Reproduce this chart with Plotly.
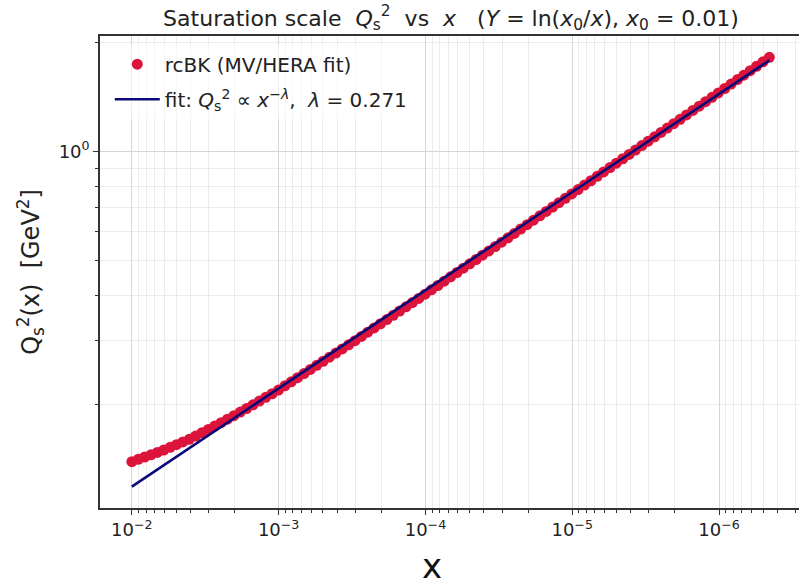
import numpy as np
import plotly.graph_objects as go

# ---- data ----
x0 = 0.01
Y_grid = np.linspace(0.0, 10.0, 101)          # rapidity Y = ln(x0/x)
x_vals = x0 * np.exp(-Y_grid)

qs2_rcbk = [
    0.1393, 0.1414, 0.1434, 0.1455, 0.1477, 0.1500, 0.1526, 0.1552, 0.1579, 0.1606,
    0.1639, 0.1674, 0.1710, 0.1746, 0.1784, 0.1825, 0.1866, 0.1909, 0.1953, 0.1999,
    0.2047, 0.2096, 0.2145, 0.2196, 0.2255, 0.2314, 0.2375, 0.2439, 0.2503, 0.2569,
    0.2637, 0.2707, 0.2778, 0.2852, 0.2927, 0.3006, 0.3088, 0.3172, 0.3259, 0.3347,
    0.3438, 0.3532, 0.3628, 0.3727, 0.3829, 0.3932, 0.4040, 0.4153, 0.4268, 0.4387,
    0.4510, 0.4636, 0.4764, 0.4897, 0.5035, 0.5174, 0.5318, 0.5467, 0.5622, 0.5779,
    0.5942, 0.6112, 0.6283, 0.6463, 0.6645, 0.6833, 0.7026, 0.7226, 0.7430, 0.7639,
    0.7855, 0.8080, 0.8306, 0.8543, 0.8785, 0.9033, 0.9288, 0.9553, 0.9822, 1.0097,
    1.0385, 1.0678, 1.0980, 1.1290, 1.1612, 1.1940, 1.2277, 1.2624, 1.2984, 1.3347,
    1.3728, 1.4116, 1.4515, 1.4931, 1.5360, 1.5801, 1.6252, 1.6719, 1.7199, 1.7689,
    1.8197,
]

fit_x = [1.0e-2, 4.54e-7]
fit_y = [0.1189, 1.786]

x_tick_vals = [1e-2, 1e-3, 1e-4, 1e-5, 1e-6]
x_tick_text = ["10<sup>−2</sup>", "10<sup>−3</sup>", "10<sup>−4</sup>",
               "10<sup>−5</sup>", "10<sup>−6</sup>"]
y_tick_vals = [1.0]
y_tick_text = ["10<sup>0</sup>"]

# minor tick positions (2..9 per decade)
x_minor = [k * 10.0 ** d for d in range(-7, -1) for k in range(2, 10)]
x_minor = [v for v in x_minor if 2.8e-7 < v < 0.0165]
y_minor = [k * 10.0 ** d for d in range(-1, 1) for k in range(2, 10)]
y_minor = [v for v in y_minor if 0.1035 < v < 2.08]

FONT = "DejaVu Sans"
SPINE = "#333333"
TXT = "#222222"

fig = go.Figure()
fig.add_trace(go.Scatter(
    x=x_vals, y=qs2_rcbk, mode="markers",
    marker=dict(color="#DC143C", size=11, line=dict(width=0)),
    name="rcBK (MV/HERA fit)", legendgroup="a",
))
fig.add_trace(go.Scatter(
    x=fit_x, y=fit_y, mode="lines",
    line=dict(color="#0a0a78", width=2.6),
    name="fit: <i>Q</i><sub>s</sub><sup>2</sup> ∝ <i>x</i><sup>−<i>λ</i></sup>,  <i>λ</i> = 0.271",
    legendgroup="b",
))

fig.update_layout(
    width=799, height=586,
    margin=dict(l=100, r=0, t=36, b=78),
    paper_bgcolor="white", plot_bgcolor="white",
    font=dict(family=FONT, color=TXT),
    title=dict(
        text="Saturation scale  <i>Q</i><sub>s</sub><sup>2</sup>  vs  <i>x</i>   "
             "(<i>Y</i> = ln(<i>x</i><sub>0</sub>/<i>x</i>), <i>x</i><sub>0</sub> = 0.01)",
        x=(451 - 100) / 699, xanchor="center", y=1 - 18 / 586, yanchor="middle",
        xref="paper",
        font=dict(size=22, family=FONT, color=TXT),
    ),
    showlegend=True,
    legend=dict(
        x=0.014, y=0.99 - 4 / 472, xanchor="left", yanchor="top",
        bgcolor="rgba(255,255,255,0.6)", borderwidth=0,
        font=dict(size=20, family=FONT, color=TXT),
        itemwidth=45, tracegroupgap=6,
    ),
    annotations=[dict(
        text="x", xref="paper", yref="paper",
        x=(432 - 100) / 699, y=-(566 - 508) / 472,
        xanchor="center", yanchor="middle", showarrow=False,
        font=dict(size=34, family=FONT, color="#111111"),
    )],
)

fig.update_xaxes(
    type="log", range=[-1.783, -6.545],
    tickmode="array", tickvals=x_tick_vals, ticktext=x_tick_text,
    tickfont=dict(size=18, family=FONT, color=TXT),
    ticks="outside", ticklen=5, tickwidth=1.2, tickcolor=SPINE,
    showline=True, linecolor=SPINE, linewidth=1.6, mirror=True,
    showgrid=True, gridcolor="#d6d6d6", gridwidth=1,
    minor=dict(tickmode="array", tickvals=x_minor, ticks="outside", ticklen=3,
               tickcolor=SPINE, showgrid=True, gridcolor="#ececec", gridwidth=1),
    zeroline=False,
)
fig.update_yaxes(
    type="log", range=[-0.984, 0.319],
    tickmode="array", tickvals=y_tick_vals, ticktext=y_tick_text,
    tickfont=dict(size=18, family=FONT, color=TXT),
    ticks="outside", ticklen=5, tickwidth=1.2, tickcolor=SPINE,
    showline=True, linecolor=SPINE, linewidth=1.6, mirror=False,
    showgrid=True, gridcolor="#d6d6d6", gridwidth=1,
    minor=dict(tickmode="array", tickvals=y_minor, ticks="outside", ticklen=3,
               tickcolor=SPINE, showgrid=True, gridcolor="#ececec", gridwidth=1),
    zeroline=False,
    title=dict(text="Q<sub>s</sub><sup>2</sup>(x)  [GeV<sup>2</sup>]",
               font=dict(size=24, family=FONT, color=TXT), standoff=12),
)

fig.write_html("out.html")
